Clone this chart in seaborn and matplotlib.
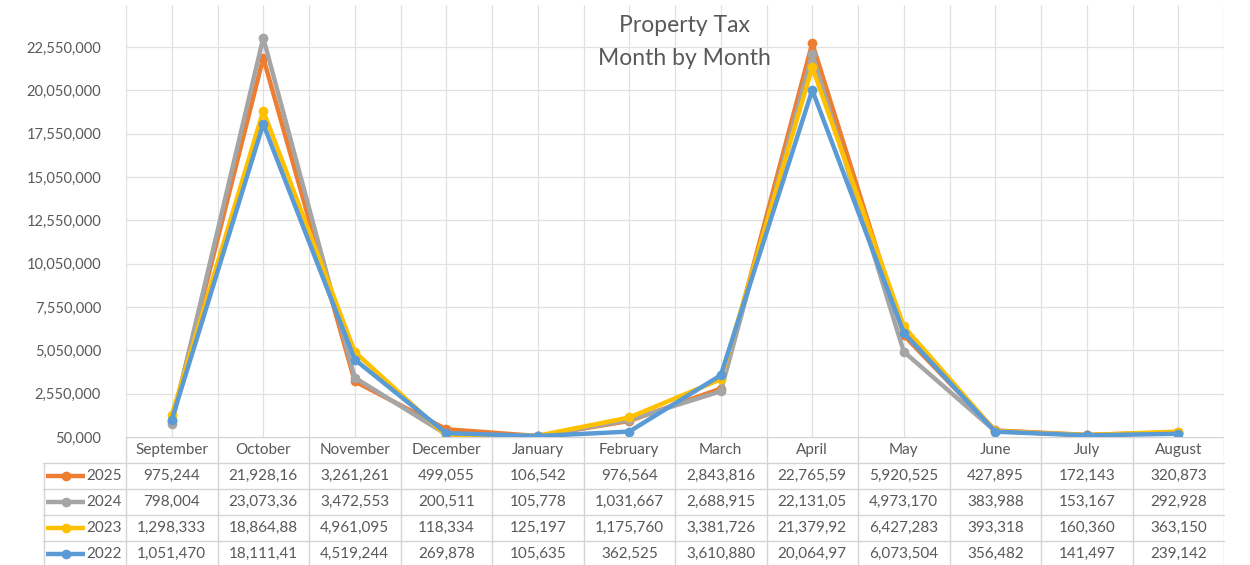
import matplotlib
matplotlib.use("Agg")
import matplotlib.pyplot as plt
import seaborn as sns
import pandas as pd
import numpy as np

months = ["September", "October", "November", "December", "January", "February",
          "March", "April", "May", "June", "July", "August"]
years = ["2025", "2024", "2023", "2022"]
v2025 = [975244, 21928160, 3261261, 499055, 106542, 976564, 2843816, 22765590, 5920525, 427895, 172143, 320873]
v2024 = [798004, 23073360, 3472553, 200511, 105778, 1031667, 2688915, 22131050, 4973170, 383988, 153167, 292928]
v2023 = [1298333, 18864880, 4961095, 118334, 125197, 1175760, 3381726, 21379920, 6427283, 393318, 160360, 363150]
v2022 = [1051470, 18111410, 4519244, 269878, 105635, 362525, 3610880, 20064970, 6073504, 356482, 141497, 239142]
yticks = [50000 + 2500000 * k for k in range(10)]
title = "Property Tax\nMonth by Month"

colors = {"2025": "#ED7D31", "2024": "#A5A5A5", "2023": "#FFC000", "2022": "#5B9BD5"}
series = {"2025": v2025, "2024": v2024, "2023": v2023, "2022": v2022}

rows = []
for y in years:
    for i, m in enumerate(months):
        rows.append({"pos": i, "month": m, "year": y, "value": series[y][i]})
df = pd.DataFrame(rows)

sns.set_theme(style="white")
plt.rcParams["font.family"] = ["Lato", "DejaVu Sans"]
txt = "#595959"
grid = "#E1E1E1"

W, H = 1250, 565
fig = plt.figure(figsize=(W / 100, H / 100), dpi=100)
L, R, B, T = 126, 1224, 437, 5
ax = fig.add_axes([L / W, 1 - B / H, (R - L) / W, (B - T) / H])

sns.lineplot(data=df, x="pos", y="value", hue="year", hue_order=years, palette=colors,
             marker="o", markersize=7, markeredgewidth=0, linewidth=3.2,
             legend=False, ax=ax, sort=False)

ax.set_xlim(-0.5, 11.5)
ytop = 50000 + (B - T) * (2500000 * 9) / (437 - 47)
ax.set_ylim(50000, ytop)
ax.set_yticks(yticks)
ax.set_yticklabels([f"{t:,}" for t in yticks], color=txt, fontsize=10.5)
ax.tick_params(axis="y", length=0, pad=18)
ax.set_xticks([])
ax.set_xlabel("")
ax.set_ylabel("")
for s in ax.spines.values():
    s.set_visible(False)
for t in yticks:
    ax.axhline(t, color=grid, lw=0.9, zorder=0)
for x in np.arange(-0.5, 11.51, 0.5):
    ax.axvline(x, color=grid, lw=0.9, zorder=0)

colw = (R - L) / 12.0
ax.text((684 - L) / colw - 0.5, (B - 42) / (B - T), title, transform=ax.get_xaxis_transform(),
        ha="center", va="center", fontsize=16.5, color=txt, linespacing=1.65)

# data table below
TL = 43
tab = fig.add_axes([TL / W, 0, (R - TL) / W, (H - B) / H])
tab.set_xlim(-0.5 - (L - TL) / colw, 11.5)
tab.set_ylim(-(H - B), 0)
tab.axis("off")
rh = 26
hdr = 26
lc = "#D4D4D4"
tab.plot([-0.5, 11.5], [0, 0], color=lc, lw=1)
kx0 = -0.5 - (L - TL) / colw
for k in range(len(years) + 1):
    yy = -(hdr + k * rh)
    tab.plot([kx0, 11.5], [yy, yy], color=lc, lw=1, clip_on=False)
for x in np.arange(-0.5, 11.51, 1):
    tab.plot([x, x], [0, -(H - B)], color=lc, lw=1)
tab.plot([kx0 + 0.01, kx0 + 0.01], [-hdr, -(H - B)], color=lc, lw=1)

for i, m in enumerate(months):
    tab.text(i, -hdr / 2, m, ha="center", va="center", fontsize=11, color=txt)

def fmt(v):
    s = f"{v:,}"
    return s[:9] if len(s) > 9 else s

for k, y in enumerate(years):
    yc = -(hdr + k * rh + rh / 2)
    for i in range(len(months)):
        tab.text(i, yc, fmt(series[y][i]), ha="center", va="center", fontsize=11, color=txt)
    x1 = kx0 + 3 / colw
    x2 = kx0 + 42 / colw
    tab.plot([x1, x2], [yc, yc], color=colors[y], lw=3.2, solid_capstyle="butt")
    tab.plot([(x1 + x2) / 2], [yc], marker="o", color=colors[y], markersize=7, markeredgewidth=0)
    tab.text(-0.5 - 4 / colw, yc, y, ha="right", va="center", fontsize=11, color=txt)

fig.savefig("out.png", dpi=100, facecolor="white")
